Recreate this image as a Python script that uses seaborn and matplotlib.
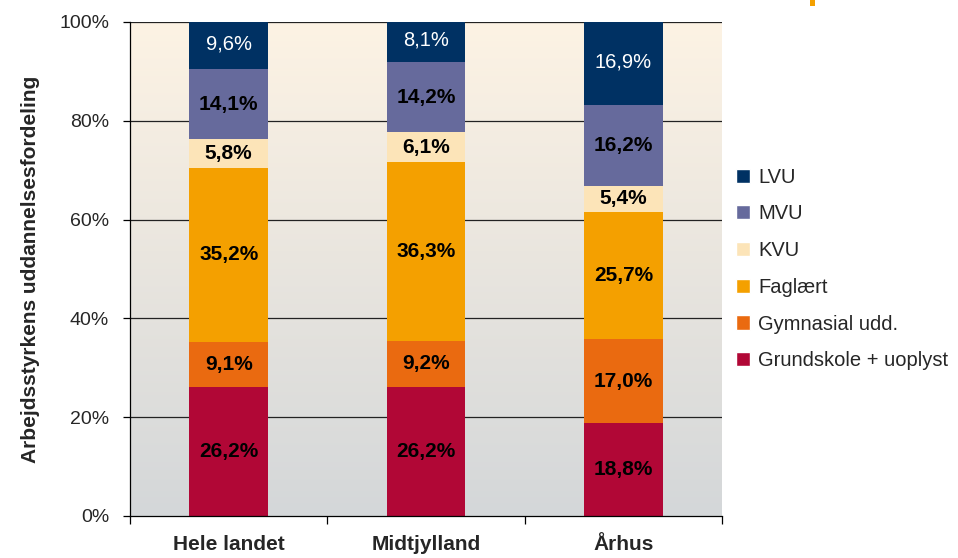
import numpy as np
import pandas as pd
import seaborn as sns
import matplotlib.pyplot as plt
from matplotlib.patches import Patch, Rectangle

# Data (percent of workforce by education level)
regions = ["Hele landet", "Midtjylland", "Århus"]
levels = ["Grundskole + uoplyst", "Gymnasial udd.", "Faglært", "KVU", "MVU", "LVU"]
grundskole = [26.2, 26.2, 18.8]
gymnasial = [9.1, 9.2, 17.0]
faglaert = [35.2, 36.3, 25.7]
kvu = [5.8, 6.1, 5.4]
mvu = [14.1, 14.2, 16.2]
lvu = [9.6, 8.1, 16.9]

colors = ["#B10736", "#EA6A10", "#F4A000", "#FCE4B8", "#666A9C", "#003163"]

series = [grundskole, gymnasial, faglaert, kvu, mvu, lvu]
values = np.array(series)
values = values / values.sum(axis=0) * 100  # normalise to 100%
cum = values.cumsum(axis=0)

sns.set_style("white")
plt.rcParams['font.family'] = ['Liberation Sans', 'DejaVu Sans']

fig = plt.figure(figsize=(9.58, 5.58), dpi=100)
ax = fig.add_axes([130 / 958, 1 - 516 / 558, 592 / 958, 494 / 558])

# gradient background
grad = np.linspace(0, 1, 256).reshape(-1, 1)
top = np.array([253, 243, 228]) / 255
bot = np.array([212, 215, 217]) / 255
img = top[None, None, :] * (1 - grad[:, :, None]) + bot[None, None, :] * grad[:, :, None]
ax.imshow(img, extent=[-0.5, 2.5, 0, 100], aspect="auto", zorder=0)

for y in [20, 40, 60, 80, 100]:
    ax.axhline(y, color="#222222", lw=0.9, zorder=1)

# stacked bars: draw cumulative totals from the top layer down
for i in range(len(levels) - 1, -1, -1):
    df = pd.DataFrame({"region": regions, "value": cum[i]})
    sns.barplot(data=df, x="region", y="value", color=colors[i], width=0.4,
                saturation=1, ax=ax, zorder=2, linewidth=0)

for j in range(len(regions)):
    for i in range(len(levels)):
        mid = cum[i, j] - values[i, j] / 2
        txt = f"{series[i][j]:.1f}%".replace(".", ",")
        if i == len(levels) - 1:
            ax.text(j, mid + 0.4, txt, ha="center", va="center", color="white", fontsize=14.5, zorder=3)
        else:
            ax.text(j, mid, txt, ha="center", va="center", color="black", fontsize=15,
                    fontweight="bold", zorder=3)

ax.set_xlim(-0.5, 2.5)
ax.set_ylim(0, 100)
ax.set_yticks([0, 20, 40, 60, 80, 100])
ax.set_yticklabels(["0%", "20%", "40%", "60%", "80%", "100%"], fontsize=14)
ax.tick_params(axis="y", which="major", direction="out", length=5, width=0.9, color="black", pad=10, left=True)
ax.set_xticks([0, 1, 2])
ax.set_xticklabels(regions, fontsize=15, fontweight="bold")
ax.set_xticks([-0.5, 0.5, 1.5, 2.5], minor=True)
ax.tick_params(axis="x", which="major", length=0, pad=14)
ax.tick_params(axis="x", which="minor", direction="out", length=6, width=0.9, color="black", bottom=True)
ax.set_xlabel("")
ax.set_ylabel("Arbejdsstyrkens uddannelsesfordeling", fontsize=15, fontweight="bold", labelpad=14)

for s in ["top", "right"]:
    ax.spines[s].set_visible(False)
for s in ["left", "bottom"]:
    ax.spines[s].set_color("black")
    ax.spines[s].set_linewidth(0.9)

handles = [Patch(facecolor=colors[i], label=levels[i]) for i in range(len(levels) - 1, -1, -1)]
fig.legend(handles=handles, loc="center left", bbox_to_anchor=(728 / 958, 1 - 269 / 558),
           frameon=False, fontsize=14.5, handlelength=0.7, handleheight=0.7,
           handletextpad=0.4, labelspacing=0.88, borderaxespad=0)

# small orange mark at top edge (cropped logo)
fig.patches.append(Rectangle((810 / 958, 1 - 6 / 558), 5 / 958, 6 / 558,
                             transform=fig.transFigure, facecolor="#F4A000", edgecolor="none"))

fig.savefig("out.png", dpi=100)
